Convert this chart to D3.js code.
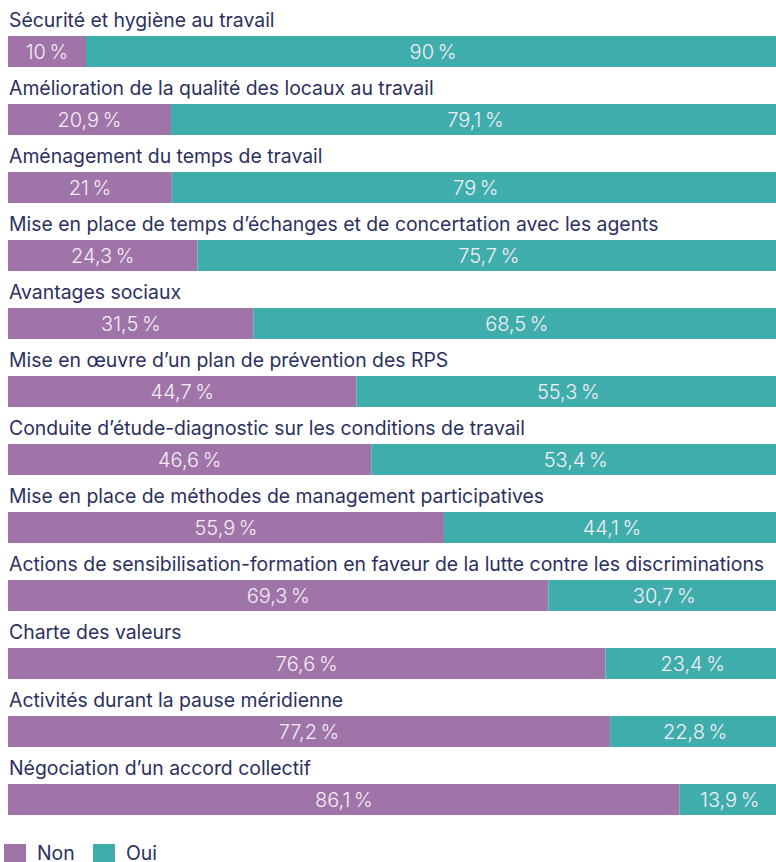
<!DOCTYPE html>
<html>
<head>
<meta charset="utf-8">
<script src="https://cdn.jsdelivr.net/npm/d3@7"></script>
<style>
  body { margin: 0; background: #fff; }
  svg { display: block; }
</style>
</head>
<body id="body">
<script>
const categories = [
  "Sécurité et hygiène au travail",
  "Amélioration de la qualité des locaux au travail",
  "Aménagement du temps de travail",
  "Mise en place de temps d’échanges et de concertation avec les agents",
  "Avantages sociaux",
  "Mise en œuvre d’un plan de prévention des RPS",
  "Conduite d’étude-diagnostic sur les conditions de travail",
  "Mise en place de méthodes de management participatives",
  "Actions de sensibilisation-formation en faveur de la lutte contre les discriminations",
  "Charte des valeurs",
  "Activités durant la pause méridienne",
  "Négociation d’un accord collectif"
];
const non = [10, 20.9, 21, 24.3, 31.5, 44.7, 46.6, 55.9, 69.3, 76.6, 77.2, 86.1];
const oui = [90, 79.1, 79, 75.7, 68.5, 55.3, 53.4, 44.1, 30.7, 23.4, 22.8, 13.9];
const seriesNames = ["Non", "Oui"];
const colors = ["#a074a8", "#40adad"];

const width = 776, height = 862;
const font = "Inter, 'Noto Sans', sans-serif";
const svg = d3.select("body").append("svg")
  .attr("width", width)
  .attr("height", height);

// bars run a little past the right edge of the window
const x = d3.scaleLinear().domain([0, 100]).range([8, 788]);
// step 68, bar 31
const y = d3.scaleBand().domain(d3.range(categories.length)).range([36, 815]).paddingInner(37 / 68).paddingOuter(0);
const rows = categories.map((c, i) => ({ label: c, vals: [non[i], oui[i]], i }));

const fmt = v => String(v).replace(".", ",") + "\u202f%";

const g = svg.selectAll("g.row").data(rows).join("g").attr("class", "row");

g.append("text")
  .attr("x", 9)
  .attr("y", d => y(d.i) - 9)
  .attr("fill", "#2b3062")
  .attr("font-family", font)
  .attr("font-size", 19.4)
  .text(d => d.label);

g.each(function(d) {
  let acc = 0;
  const segs = d.vals.map((v, k) => { const s = { x0: acc, x1: acc + v, v, k }; acc += v; return s; });
  const sg = d3.select(this);
  sg.selectAll("rect").data(segs).join("rect")
    .attr("x", s => x(s.x0))
    .attr("width", s => x(s.x1) - x(s.x0))
    .attr("y", y(d.i))
    .attr("height", y.bandwidth())
    .attr("fill", s => colors[s.k]);
  sg.selectAll("text.val").data(segs).join("text")
    .attr("class", "val")
    .attr("x", s => (x(s.x0) + Math.min(x(s.x1), 780)) / 2)
    .attr("y", y(d.i) + y.bandwidth() / 2 + 7.5)
    .attr("text-anchor", "middle")
    .attr("fill", "#f3eef5")
    .attr("font-family", font)
    .attr("font-weight", 300)
    .attr("font-size", 20)
    .text(s => fmt(s.v));
});

const leg = svg.append("g").selectAll("g").data(seriesNames).join("g")
  .attr("transform", (d, i) => `translate(${i === 0 ? 4 : 93},844)`);
leg.append("rect").attr("width", 22).attr("height", 22).attr("fill", (d, i) => colors[i]);
leg.append("text")
  .attr("x", 33).attr("y", 16)
  .attr("fill", "#2b3062")
  .attr("font-family", font)
  .attr("font-size", 19.4)
  .text(d => d);
</script>
</body>
</html>
